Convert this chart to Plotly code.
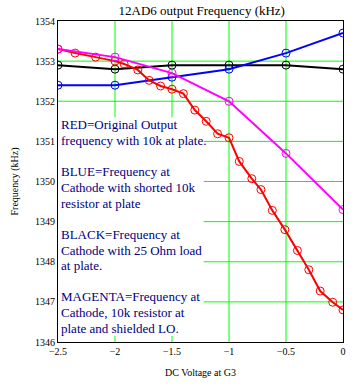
import plotly.graph_objects as go

# ---- data ----
x_half = [-2.5, -2.0, -1.5, -1.0, -0.5, 0.0]
black_y = [1352.9, 1352.8, 1352.9, 1352.9, 1352.9, 1352.8]
blue_y = [1352.4, 1352.4, 1352.6, 1352.8, 1353.2, 1353.7]
magenta_y = [1353.3, 1353.1, 1352.7, 1352.0, 1350.7, 1349.3]

red_x = [-2.5, -2.35, -2.17, -2.0, -1.92, -1.8, -1.7, -1.6, -1.5, -1.4, -1.3, -1.2,
         -1.1, -1.0, -0.91, -0.8, -0.72, -0.62, -0.51, -0.4, -0.3, -0.2, -0.09, 0.0]
red_y = [1353.3, 1353.2, 1353.1, 1353.0, 1352.93, 1352.78, 1352.52, 1352.38, 1352.3,
         1352.19, 1351.78, 1351.5, 1351.19, 1351.09, 1350.5, 1350.07, 1349.8, 1349.28,
         1348.8, 1348.28, 1347.8, 1347.27, 1346.99, 1346.8]

x_ticks = [-2.5, -2.0, -1.5, -1.0, -0.5, 0.0]
x_tick_labels = ["\u22122.5", "\u22122", "\u22121.5", "\u22121", "\u22120.5", "0"]
y_ticks = [1346, 1347, 1348, 1349, 1350, 1351, 1352, 1353, 1354]

legend_lines = [
    "RED=Original Output",
    "frequency with 10k at plate.",
    "",
    "BLUE=Frequency at",
    "Cathode with shorted 10k",
    "resistor at plate",
    "",
    "BLACK=Frequency at",
    "Cathode with 25 Ohm load",
    "at plate.",
    "",
    "MAGENTA=Frequency at",
    "Cathode, 10k resistor at",
    "plate and shielded LO.",
]

SERIF = "Liberation Serif, Times New Roman, serif"
GRID = "#00ff00"

fig = go.Figure()

def add(x, y, color):
    fig.add_trace(go.Scatter(
        x=x, y=y, mode="lines+markers",
        line=dict(color=color, width=2),
        marker=dict(symbol="circle-open", size=8, color=color, line=dict(width=1, color=color)),
        showlegend=False, hoverinfo="skip"))

add(x_half, black_y, "#000000")
add(x_half, blue_y, "#0000ff")
add(red_x, red_y, "#ff0000")
add(x_half, magenta_y, "#ff00ff")

W, H = 356, 386
ml, mr, mt, mb = 58, 10, 21, 37
plot_h = H - mt - mb

# grid lines (drawn as shapes below the data)
for xv in x_ticks[1:-1]:
    fig.add_shape(type="line", xref="x", yref="paper", x0=xv, x1=xv, y0=0, y1=1,
                  line=dict(color=GRID, width=1), layer="below")
for yv in y_ticks[1:-1]:
    fig.add_shape(type="line", xref="paper", yref="y", x0=0, x1=1, y0=yv, y1=yv,
                  line=dict(color=GRID, width=1), layer="below")

# white text box covering the grid at lower left
fig.add_shape(type="rect", xref="x", yref="y", x0=-2.5, x1=-1.222, y0=1346.15, y1=1351.6,
              fillcolor="white", line=dict(width=0), layer="below")

for i, line in enumerate(legend_lines):
    if not line:
        continue
    py = 127 + 16 * i
    fig.add_annotation(text=line, xref="paper", yref="paper", x=0, xshift=1,
                       y=1 - (py - mt) / plot_h, xanchor="left", yanchor="middle",
                       showarrow=False, font=dict(family=SERIF, size=13, color="#000080"))

fig.update_layout(
    width=W, height=H,
    margin=dict(l=ml, r=mr, t=mt, b=mb),
    paper_bgcolor="white", plot_bgcolor="white",
    hovermode=False,
    title=dict(text="12AD6 output Frequency (kHz)", x=0.5667, xanchor="center",
               y=1 - 10 / H, yanchor="middle",
               font=dict(family=SERIF, size=13, color="black")),
    xaxis=dict(range=[-2.5, 0], tickvals=x_ticks, ticktext=x_tick_labels,
               showgrid=False,
               showline=True, linecolor="black", linewidth=1, mirror=True,
               ticks="", zeroline=False,
               tickfont=dict(family=SERIF, size=10, color="black"),
               title=dict(text="DC Voltage at G3", standoff=12,
                          font=dict(family=SERIF, size=10, color="black"))),
    yaxis=dict(range=[1346, 1354], tickvals=y_ticks,
               showgrid=False,
               showline=True, linecolor="black", linewidth=1, mirror=True,
               ticks="", zeroline=False,
               tickfont=dict(family=SERIF, size=10, color="black"),
               title=dict(text="Frequency (kHz)", standoff=14,
                          font=dict(family=SERIF, size=10, color="black"))),
)

fig.write_html("out.html", config={"displayModeBar": False},
               post_script="document.body.style.margin='0px';")
